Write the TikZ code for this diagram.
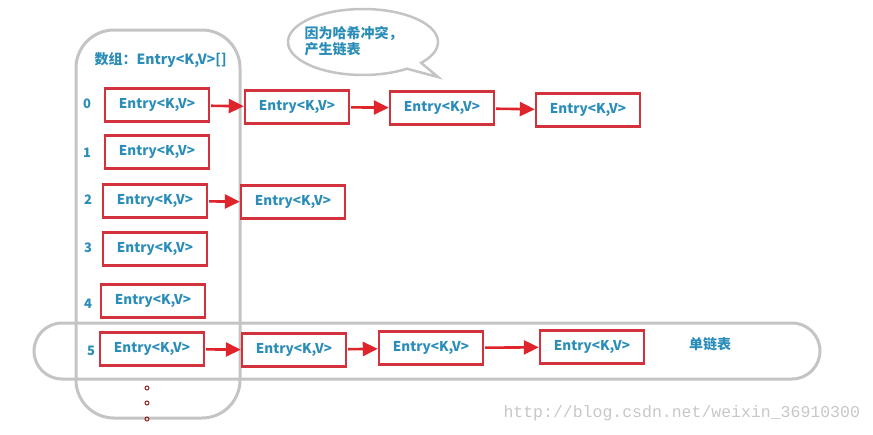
\documentclass[tikz,border=0pt]{standalone}
\usepackage{fontspec}
\setmainfont{Noto Sans CJK SC}
\newfontfamily\wmfont{Liberation Mono}
\usetikzlibrary{arrows.meta,shapes.callouts}
\definecolor{boxred}{HTML}{D2323C}
\definecolor{arrred}{HTML}{E0242C}
\definecolor{txtblue}{HTML}{2A8DB8}
\definecolor{frame}{HTML}{C4C4C4}
\tikzset{
  entry/.style={draw=boxred, line width=2.4pt, minimum width=104pt, minimum height=33pt,
    font=\bfseries\fontsize{13.5}{15}\selectfont, text=txtblue, inner sep=0pt},
  link/.style={draw=arrred, line width=2.6pt, -{Triangle[length=15pt,width=14pt]}, shorten <=1pt},
  idx/.style={font=\bfseries\fontsize{13}{15}\selectfont, text=txtblue},
  dotc/.style={draw=boxred!70!black, line width=1pt, circle, inner sep=0pt, minimum size=4pt},
  grayline/.style={draw=frame, line width=3pt}
}
\begin{document}
\begin{tikzpicture}[x=1pt,y=-1pt]
\useasboundingbox (0,0) rectangle (873,434);
% array frame
\draw[grayline, rounded corners=38pt] (76,30) rectangle (240,418);
% single linked list capsule
\draw[grayline, rounded corners=28pt] (34,323) rectangle (820,379);
% speech bubble
\node[ellipse callout, draw=frame, line width=2.5pt, minimum width=150pt, minimum height=66pt,
  callout absolute pointer={(438,77)}] (bubble) at (363,42) {};
\node[anchor=north west, align=left, font=\bfseries\fontsize{14}{16}\selectfont, text=txtblue] (btext) at (301,23) {因为哈希冲突，\\产生链表};
% title
\node[anchor=west, font=\bfseries\fontsize{14}{16}\selectfont, text=txtblue] (title) at (91,60) {数组：Entry<K,V>[]};
% indices
\node[idx] (i0) at (87,104) {0};
\node[idx] (i1) at (87,153) {1};
\node[idx] (i2) at (88,200) {2};
\node[idx] (i3) at (88,248) {3};
\node[idx] (i4) at (88,304) {4};
\node[idx] (i5) at (91,351) {5};
% array entries
\node[entry] (a0) at (157,105) {Entry<K,V>};
\node[entry] (a1) at (157,152) {Entry<K,V>};
\node[entry] (a2) at (155,201) {Entry<K,V>};
\node[entry] (a3) at (155,249) {Entry<K,V>};
\node[entry] (a4) at (153,301) {Entry<K,V>};
\node[entry] (a5) at (152,349) {Entry<K,V>};
% chain 0
\node[entry] (b01) at (297,107) {Entry<K,V>};
\node[entry] (b02) at (442,108) {Entry<K,V>};
\node[entry] (b03) at (588,110) {Entry<K,V>};
% chain 2
\node[entry] (b21) at (293,202) {Entry<K,V>};
% chain 5
\node[entry] (b51) at (294,350) {Entry<K,V>};
\node[entry] (b52) at (431,348) {Entry<K,V>};
\node[entry] (b53) at (592,347) {Entry<K,V>};
\node[font=\bfseries\fontsize{14}{16}\selectfont, text=txtblue] (lbl) at (710,344) {单链表};
% links
\draw[link] (a0) -- (b01);
\draw[link] (b01) -- (b02);
\draw[link] (b02) -- (b03);
\draw[link] (a2) -- (b21);
\draw[link] (a5) -- (b51);
\draw[link] (b51) -- (b52);
\draw[link] (b52) -- (b53);
% dots
\node[dotc] (d1) at (147,388) {};
\node[dotc] (d2) at (147,403) {};
\node[dotc] (d3) at (147,419) {};
% watermark
\node[anchor=west, font=\wmfont\fontsize{16.5}{18}\selectfont, text=black!22] (wm) at (500,413) {http://blog.csdn.net/weixin\_36910300};
\end{tikzpicture}
\end{document}
